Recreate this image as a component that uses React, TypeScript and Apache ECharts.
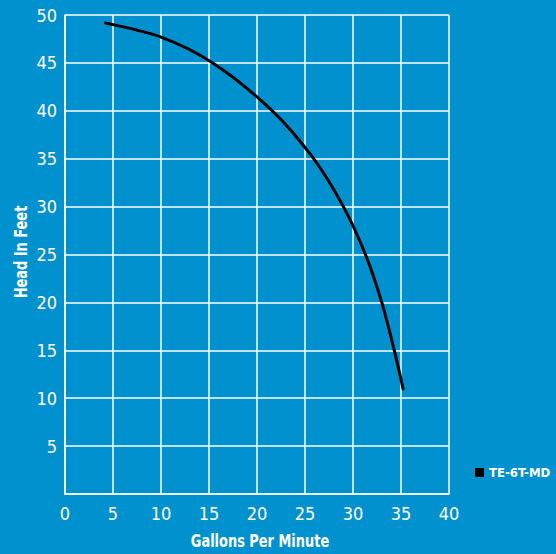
import React, { useEffect, useRef } from "react";
import * as echarts from "echarts";

const seriesName = "TE-6T-MD";
const flowGpm = [4.1, 10, 15.4, 21.6, 25.9, 29.0, 31.3, 33.0, 34.3, 35.25];
const headFeet = [49.2, 47.7, 45, 40, 35, 30, 25, 20, 15, 10.85];
const xAxisName = "Gallons Per Minute";
const yAxisName = "Head In Feet";

const cond = "'DejaVu Sans Condensed', 'Liberation Sans', sans-serif";

export default function App() {
  const ref = useRef<HTMLDivElement>(null);
  useEffect(() => {
    if (!ref.current) return;
    const chart = echarts.init(ref.current, null, { renderer: "svg" });
    const data = flowGpm.map((x, i) => [x, headFeet[i]]);
    chart.setOption({
      animation: false,
      backgroundColor: "#0291cf",
      grid: { left: 65, right: 107, top: 15, bottom: 60 },
      legend: {
        data: [{ name: seriesName, icon: "rect" }],
        left: 470,
        top: 461,
        itemWidth: 9,
        itemHeight: 9,
        itemGap: 3,
        textStyle: { color: "#fff", fontFamily: cond, fontSize: 13, fontWeight: "bold" },
      },
      graphic: [
        {
          type: "text",
          x: 260,
          y: 541,
          scaleX: 0.8,
          style: {
            text: xAxisName,
            fill: "#fff",
            font: `bold 18px ${cond}`,
            align: "center",
            verticalAlign: "middle",
          },
        },
        {
          type: "text",
          x: 21,
          y: 252,
          rotation: Math.PI / 2,
          scaleX: 0.8,
          style: {
            text: yAxisName,
            fill: "#fff",
            font: `bold 18px ${cond}`,
            align: "center",
            verticalAlign: "middle",
          },
        },
      ],
      xAxis: {
        type: "value",
        min: 0,
        max: 40,
        interval: 5,
        axisLine: { show: true, lineStyle: { color: "#fff", width: 1.5 } },
        axisTick: { show: false },
        axisLabel: { color: "#fff", fontFamily: cond, fontSize: 18, margin: 10 },
        splitLine: { show: true, lineStyle: { color: "#fff", width: 1.5 } },
      },
      yAxis: {
        type: "value",
        min: 0,
        max: 50,
        interval: 5,
        axisLine: { show: true, lineStyle: { color: "#fff", width: 1.5 } },
        axisTick: { show: false },
        axisLabel: { color: "#fff", fontFamily: cond, fontSize: 18, margin: 8, showMinLabel: false },
        splitLine: { show: true, lineStyle: { color: "#fff", width: 1.5 } },
      },
      series: [
        {
          name: seriesName,
          type: "custom",
          data,
          encode: { x: 0, y: 1 },
          itemStyle: { color: "#000" },
          renderItem: (params: any, api: any) => {
            if (params.dataIndex !== 0) return null;
            const pts = data.map((d) => api.coord(d));
            const n = pts.length;
            let d = `M${pts[0][0]},${pts[0][1]}`;
            for (let i = 0; i < n - 1; i++) {
              const p0 = pts[Math.max(i - 1, 0)];
              const p1 = pts[i];
              const p2 = pts[i + 1];
              const p3 = pts[Math.min(i + 2, n - 1)];
              const c1x = p1[0] + (p2[0] - p0[0]) / 6;
              const c1y = p1[1] + (p2[1] - p0[1]) / 6;
              const c2x = p2[0] - (p3[0] - p1[0]) / 6;
              const c2y = p2[1] - (p3[1] - p1[1]) / 6;
              d += ` C${c1x},${c1y} ${c2x},${c2y} ${p2[0]},${p2[1]}`;
            }
            return {
              type: "path",
              shape: { pathData: d },
              style: { fill: "none", stroke: "#000", lineWidth: 3 },
            };
          },
        },
      ],
    });
    return () => chart.dispose();
  }, []);
  return <div ref={ref} style={{ width: 556, height: 554, position: "absolute", left: 0, top: 0 }} />;
}
